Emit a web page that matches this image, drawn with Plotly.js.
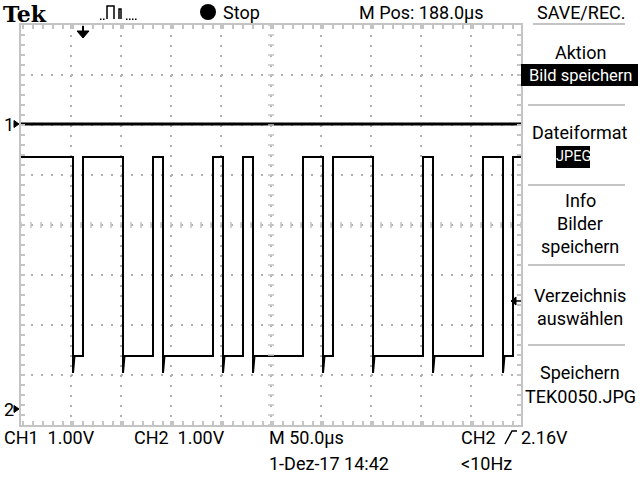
<!DOCTYPE html>
<html>
<head>
<meta charset="utf-8">
<script src="https://cdn.plot.ly/plotly-3.0.1.min.js"></script>
<style>html,body{margin:0;padding:0;background:#fff;}#chart{width:640px;height:480px;}</style>
</head>
<body>
<div id="chart"></div>
<script>
// ---- data ----
const timeStartUs = -62;          // left edge of screen (µs from trigger)
const timeEndUs = 438;            // right edge of screen
const usPerDiv = 50;              // M 50.0µs
const voltsPerDiv = 1.0;          // CH1/CH2 1.00V
const ch1Volts = [0.0, 0.0];
const ch1Times = [-62, 438];
// CH2 edges (µs): alternating falling, rising, ... starting from high
const ch2EdgeTimes = [-10, 0, 40, 70, 80, 130, 140, 160, 170, 220, 240, 250, 290, 340, 350, 400, 420, 430];
const ch2HighV = 5.04;
const ch2LowV = 1.06;
const ch2UndershootV = 0.34;
const triggerLevelV = 2.16;

// channel ground positions (divisions from screen centre)
const ch1OffsetDiv = 2.02;
const ch2OffsetDiv = -3.68;

// ---- pixel helpers for decorations ----
const L = 21, T = 25, PW = 500, PH = 400;
const px = x => (x - L) / PW;
const py = y => (T + PH - y) / PH;

// build CH2 trace from edges
const ch2x = [timeStartUs], ch2y = [ch2OffsetDiv + ch2HighV / voltsPerDiv];
let lvl = ch2HighV;
ch2EdgeTimes.forEach((t, i) => {
  if (i % 2 === 0) {
    ch2x.push(t, t, t + 1.5);
    ch2y.push(ch2OffsetDiv + ch2HighV, ch2OffsetDiv + ch2LowV - ch2UndershootV, ch2OffsetDiv + ch2LowV);
    lvl = ch2LowV;
  } else {
    ch2x.push(t, t);
    ch2y.push(ch2OffsetDiv + ch2LowV, ch2OffsetDiv + ch2HighV);
    lvl = ch2HighV;
  }
});
ch2x.push(timeEndUs); ch2y.push(ch2OffsetDiv + lvl);

const traces = [
  {x: ch1Times, y: ch1Volts.map(v => ch1OffsetDiv + v / voltsPerDiv), mode: 'lines',
   line: {color: '#000', width: 3}, hoverinfo: 'skip'},
  {x: ch2x, y: ch2y, mode: 'lines', line: {color: '#000', width: 2}, hoverinfo: 'skip'}
];

const gray = '#c4c4c4';
const shapes = [];
// centre crosshair tick marks
const xc = (timeStartUs + timeEndUs) / 2;
for (let t = timeStartUs; t <= timeEndUs + 0.01; t += usPerDiv / 5) {
  shapes.push({type: 'line', xref: 'x', yref: 'y', x0: t, x1: t, y0: -0.06, y1: 0.06, line: {color: gray, width: 1.5}});
}
for (let d = -4; d <= 4.001; d += 0.2) {
  shapes.push({type: 'line', xref: 'x', yref: 'y', x0: xc - 3, x1: xc + 3, y0: d, y1: d, line: {color: gray, width: 1.5}});
}
// trigger position arrow (top)
shapes.push({type: 'rect', xref: 'x', yref: 'paper', x0: -1, x1: 1, y0: py(32), y1: py(26), fillcolor: '#000', line: {width: 0}});
shapes.push({type: 'path', xref: 'x', yref: 'paper', path: `M -6,${py(31)} L 6,${py(31)} L 0,${py(38)} Z`, fillcolor: '#000', line: {color: '#000', width: 1}});
// trigger level arrow (right)
const trigDiv = ch2OffsetDiv + triggerLevelV / voltsPerDiv;
shapes.push({type: 'path', xref: 'paper', yref: 'y', path: `M ${px(511)},${trigDiv} L ${px(516)},${trigDiv + 0.08} L ${px(516)},${trigDiv - 0.08} Z`, fillcolor: '#000', line: {color: '#000', width: 1}});
shapes.push({type: 'line', xref: 'paper', yref: 'y', x0: px(515), x1: px(521), y0: trigDiv, y1: trigDiv, line: {color: '#000', width: 1.5}});
// channel ground markers
[[ch1OffsetDiv], [ch2OffsetDiv]].forEach(([o]) => {
  shapes.push({type: 'path', xref: 'paper', yref: 'y', path: `M ${px(14)},${o + 0.07} L ${px(19)},${o} L ${px(14)},${o - 0.07} Z`, fillcolor: '#000', line: {color: '#000', width: 1}});
});
// record-stop dot
shapes.push({type: 'circle', xref: 'paper', yref: 'paper', x0: px(200), x1: px(216), y0: py(20), y1: py(4), fillcolor: '#000', line: {width: 0}});
// acquisition icon
shapes.push({type: 'path', xref: 'paper', yref: 'paper',
  path: `M ${px(107)},${py(19)} L ${px(107)},${py(6)} L ${px(114)},${py(6)} L ${px(114)},${py(19)} M ${px(119)},${py(19)} L ${px(119)},${py(9)} L ${px(121)},${py(9)} L ${px(121)},${py(19)}`,
  line: {color: '#000', width: 1.5}});
[100, 103, 126, 129, 132, 135].forEach(x => shapes.push({type: 'rect', xref: 'paper', yref: 'paper', x0: px(x), x1: px(x + 1.5), y0: py(20), y1: py(18.5), fillcolor: '#000', line: {width: 0}}));
// menu separators
[[533, 24], [528, 105], [528, 185], [528, 265], [528, 345]].forEach(([x0, y]) => {
  shapes.push({type: 'line', xref: 'paper', yref: 'paper', x0: px(x0), x1: px(625), y0: py(y), y1: py(y), line: {color: gray, width: 2}});
});
// inverted label boxes
shapes.push({type: 'rect', xref: 'paper', yref: 'paper', x0: px(521), x1: px(638), y0: py(86), y1: py(64), fillcolor: '#000', line: {width: 0}});
shapes.push({type: 'rect', xref: 'paper', yref: 'paper', x0: px(556), x1: px(590), y0: py(168), y1: py(146), fillcolor: '#000', line: {width: 0}});
// trigger slope icon
shapes.push({type: 'path', xref: 'paper', yref: 'paper', path: `M ${px(505)},${py(444)} L ${px(512)},${py(431)} L ${px(517)},${py(431)}`, line: {color: '#000', width: 1.5}});

const F = 'Roboto, Liberation Sans Narrow, sans-serif';
function txt(text, x, y, anchor, size, color, family) {
  return {text, xref: 'paper', yref: 'paper', x: px(x), y: py(y), xanchor: anchor || 'center', yanchor: 'middle',
          showarrow: false, font: {family: family || F, size: size || 18, color: color || '#000'}};
}
const annotations = [
  txt('<b>Tek</b>', 1, 14, 'left', 22, '#000', 'DejaVu Serif'),
  txt('Stop', 221, 12, 'left'),
  txt('M Pos: 188.0µs', 421, 12),
  txt('SAVE/REC.', 581, 12),
  txt('Aktion', 580, 53),
  txt('Bild speichern', 580, 75, 'center', 16.5, '#fff'),
  txt('Dateiformat', 580, 132),
  txt('JPEG', 573, 157, 'center', 14.5, '#fff'),
  txt('Info', 580, 200),
  txt('Bilder', 580, 223),
  txt('speichern', 580, 247),
  txt('Verzeichnis', 580, 295),
  txt('auswählen', 580, 318),
  txt('Speichern', 580, 372),
  txt('TEK0050.JPG', 580, 396),
  txt('CH1  1.00V', 2, 437, 'left'),
  txt('CH2  1.00V', 132, 437, 'left'),
  txt('M 50.0µs', 267, 437, 'left'),
  txt('CH2', 459, 437, 'left'),
  txt('2.16V', 519, 437, 'left'),
  txt('1-Dez-17 14:42', 267, 464, 'left'),
  txt('<10Hz', 459, 464, 'left'),
  {text: '1', xref: 'paper', yref: 'y', x: px(2), y: ch1OffsetDiv, xanchor: 'left', yanchor: 'middle', showarrow: false, font: {family: F, size: 18, color: '#000'}},
  {text: '2', xref: 'paper', yref: 'y', x: px(2), y: ch2OffsetDiv, xanchor: 'left', yanchor: 'middle', showarrow: false, font: {family: F, size: 18, color: '#000'}}
];

const axisCommon = {
  showticklabels: false, zeroline: false, showline: true, linecolor: gray, linewidth: 2, mirror: 'ticks',
  ticks: 'inside', ticklen: 4, tickwidth: 1.5, tickcolor: gray,
  showgrid: true, gridcolor: '#b0b0b0', gridwidth: 2, griddash: '2px,8px', fixedrange: true
};
const layout = {
  width: 640, height: 480,
  margin: {l: 21, r: 119, t: 25, b: 55},
  paper_bgcolor: '#fff', plot_bgcolor: '#fff', showlegend: false,
  xaxis: Object.assign({}, axisCommon, {range: [timeStartUs, timeEndUs], tick0: timeStartUs, dtick: usPerDiv,
    minor: {dtick: usPerDiv / 5, ticks: 'inside', ticklen: 4, tickcolor: gray, tickwidth: 1.5, showgrid: false}}),
  yaxis: Object.assign({}, axisCommon, {range: [-4, 4], tick0: -4, dtick: 1,
    minor: {dtick: 0.2, ticks: 'inside', ticklen: 4, tickcolor: gray, tickwidth: 1.5, showgrid: false}}),
  shapes, annotations
};
Plotly.newPlot('chart', traces, layout, {staticPlot: true, displayModeBar: false});
</script>
</body>
</html>
